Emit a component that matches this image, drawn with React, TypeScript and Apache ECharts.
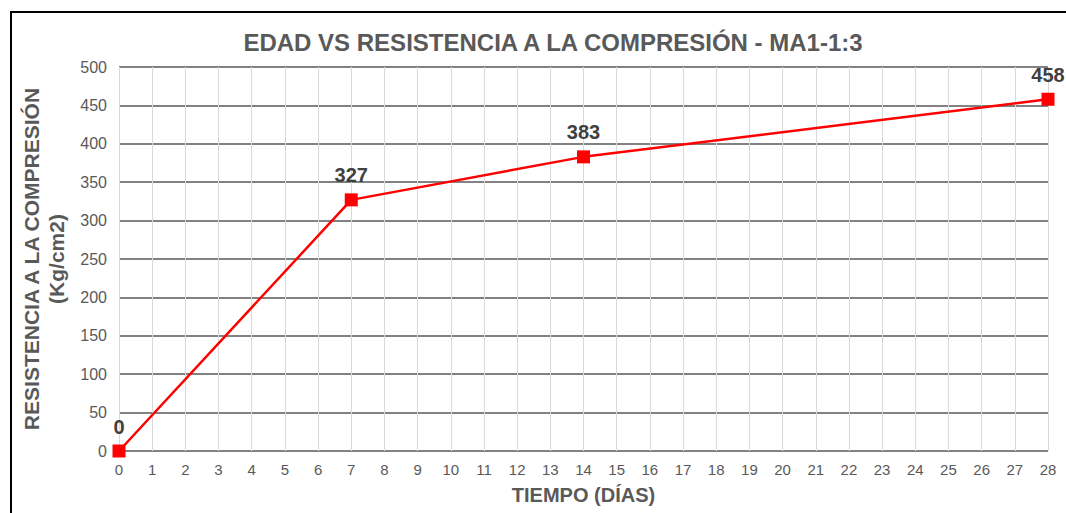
import React, { useEffect, useRef } from "react";
import * as echarts from "echarts";

const days = [0, 7, 14, 28];
const strength = [0, 327, 383, 458];
const titleText = "EDAD VS RESISTENCIA A LA COMPRESIÓN - MA1-1:3";
const yName = "RESISTENCIA A LA COMPRESIÓN\n(Kg/cm2)";
const xName = "TIEMPO (DÍAS)";

export default function App() {
  const ref = useRef<HTMLDivElement>(null);
  useEffect(() => {
    document.body.style.margin = "0";
    const chart = echarts.init(ref.current!, null, { renderer: "svg" });
    const font = "Arial, 'Liberation Sans', sans-serif";
    chart.setOption({
      animation: false,
      backgroundColor: "#ffffff",
      textStyle: { fontFamily: font },
      title: {
        text: titleText,
        left: 548,
        top: 25,
        textAlign: "center",
        textStyle: { fontSize: 24, fontWeight: "bold", color: "#595959", fontFamily: font },
      },
      graphic: [
        {
          type: "rect",
          shape: { x: 11, y: 12, width: 1200, height: 600 },
          style: { fill: "none", stroke: "#000000", lineWidth: 2 },
          silent: true,
        },
      ],
      grid: { left: 119, right: 18, top: 67, bottom: 62 },
      xAxis: {
        type: "value",
        min: 0,
        max: 28,
        interval: 1,
        name: xName,
        nameLocation: "middle",
        nameGap: 34,
        nameTextStyle: { fontSize: 20, fontWeight: "bold", color: "#595959", fontFamily: font },
        axisLine: { show: false },
        axisTick: { show: false },
        axisLabel: { fontSize: 15, color: "#595959", margin: 11, fontFamily: font },
        splitLine: { show: true, lineStyle: { color: "#d9d9d9", width: 1 } },
      },
      yAxis: {
        type: "value",
        min: 0,
        max: 500,
        interval: 50,
        name: yName,
        nameLocation: "middle",
        nameGap: 41,
        nameTextStyle: { fontSize: 21, fontWeight: "bold", color: "#595959", lineHeight: 25, fontFamily: font },
        axisLine: { show: false },
        axisTick: { show: false },
        axisLabel: { fontSize: 16, color: "#595959", margin: 12, fontFamily: font },
        splitLine: { show: true, lineStyle: { color: "#595959", width: 1.5 } },
      },
      series: [
        {
          type: "line",
          data: days.map((d, i) => [d, strength[i]]),
          symbol: "rect",
          symbolSize: 13,
          lineStyle: { color: "#ff0000", width: 2.5 },
          itemStyle: { color: "#ff0000" },
          label: {
            show: true,
            position: "top",
            distance: 8,
            fontSize: 20,
            fontWeight: "bold",
            color: "#404040",
            fontFamily: font,
            formatter: (p: any) => String(p.value[1]),
          },
        },
      ],
    });
    return () => chart.dispose();
  }, []);
  return <div ref={ref} style={{ width: 1066, height: 513 }} />;
}
